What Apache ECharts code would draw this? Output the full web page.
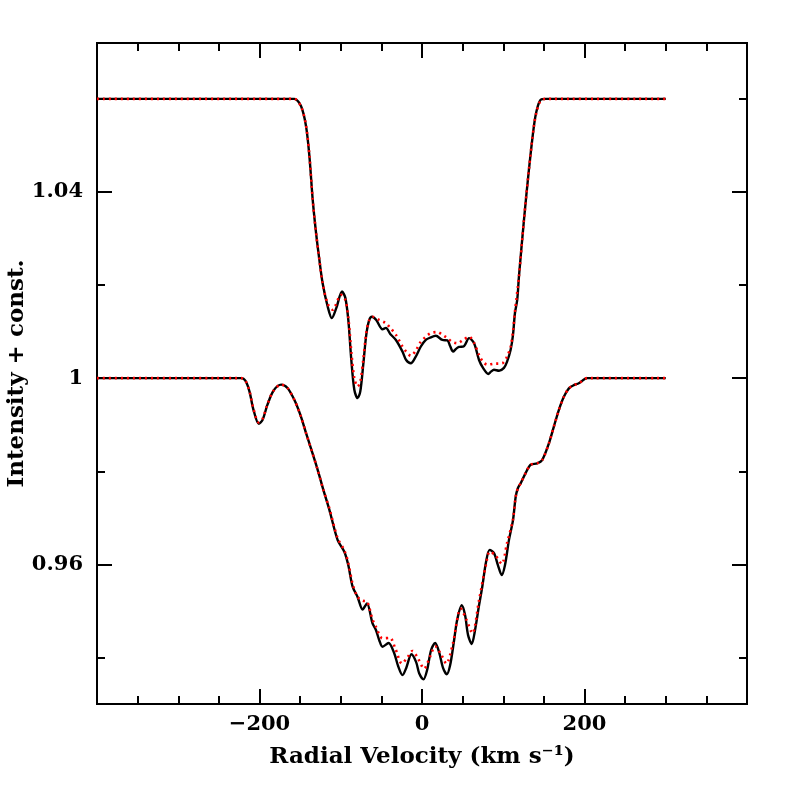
<!DOCTYPE html>
<html>
<head>
<meta charset="utf-8">
<script src="https://cdn.jsdelivr.net/npm/echarts@6/dist/echarts.min.js"></script>
<style>html,body{margin:0;padding:0;background:#fff;}#chart{width:789px;height:789px;}</style>
</head>
<body>
<div id="chart"></div>
<script>
// Upper profile (offset +0.06): observed (black) and model (red dotted)
var upperObsV = [-400,-165,-157,-148.8,-142.7,-138.6,-134.5,-130.4,-126.3,-122.3,-116.1,-111.0,-105.4,-98.4,-94.4,-90.7,-87.0,-83.3,-79.3,-76.0,-72.3,-68.6,-64.9,-61.6,-56.3,-48.6,-44.4,-39.1,-32.1,-24.0,-19.5,-13.7,-8.4,-1.4,4.7,10.0,17.0,25.1,31.3,34.6,38.3,41.9,45.6,51.8,57.9,64.1,70.2,75.1,81.6,84.9,88.6,94.8,100.9,104.6,109.1,112.0,114.4,117.2,119.3,125.5,131.6,137.7,141.4,146.0,152.1,160,300];
var upperObsI = [1.06,1.06,1.06,1.0584,1.0541,1.0477,1.0383,1.0312,1.0254,1.0204,1.0154,1.0129,1.0151,1.0186,1.0173,1.0125,1.0039,0.9975,0.9957,0.9971,1.0029,1.0093,1.0125,1.0132,1.0125,1.0105,1.0108,1.0095,1.0082,1.0057,1.0039,1.0032,1.0044,1.0068,1.0082,1.0087,1.0091,1.0082,1.0081,1.0069,1.0057,1.0063,1.0067,1.0069,1.0086,1.0075,1.0039,1.0022,1.0009,1.0014,1.0018,1.0016,1.0022,1.0035,1.0061,1.0093,1.0140,1.0168,1.0218,1.0340,1.0448,1.0541,1.0577,1.0598,1.06,1.06,1.06];
var upperModV = [-400,-165,-157,-148.5,-142.5,-138.5,-134.5,-130.4,-126.3,-122.3,-116.1,-110.0,-99.7,-94.4,-90.7,-87.0,-83.3,-79.3,-76.0,-72.3,-68.6,-64.9,-60.9,-52.6,-44.4,-39.1,-32.1,-24.4,-19.5,-13.7,-8.4,-2.3,4.7,11.2,19.0,25.1,31.3,37.0,43.5,50.5,57.9,64.1,70.2,75.1,80.4,88.6,98.8,104.6,109.1,112.0,114.4,119.3,125.5,131.6,137.7,141.4,146.0,152.1,160,300];
var upperModI = [1.06,1.06,1.06,1.0582,1.054,1.0477,1.0383,1.0312,1.0254,1.0204,1.0160,1.0147,1.0179,1.0168,1.0130,1.0057,1.0000,0.9982,0.9992,1.0039,1.0097,1.0125,1.0132,1.0125,1.0118,1.0108,1.0093,1.0069,1.0057,1.0048,1.0057,1.0076,1.0089,1.0097,1.0099,1.0093,1.0086,1.0078,1.0075,1.0082,1.0089,1.0076,1.0050,1.0035,1.0029,1.0031,1.0032,1.0046,1.0068,1.0100,1.0143,1.0218,1.0340,1.0448,1.0541,1.0575,1.0596,1.06,1.06,1.06];

// Lower profile: observed (black) and model (red dotted)
var lowerObsV = [-400,-228,-222.5,-217.2,-212.3,-207.4,-200.9,-196.3,-190.2,-182.8,-173.4,-165.6,-157.0,-149.7,-142.7,-136.1,-128.4,-121.4,-114.0,-103.8,-95.6,-90.7,-85.4,-79.3,-73.1,-67.7,-60.9,-56.7,-52.6,-48.6,-41.2,-34.2,-29.3,-24.0,-19.5,-13.0,-7.2,-3.5,1.8,6.3,11.2,16.2,21.1,26.0,30.5,34.6,39.5,43.2,48.9,53.0,56.7,61.2,65.3,70.2,74.2,78.8,83.3,88.6,93.5,98.1,102.1,107.0,112.0,115.3,118.1,121.4,127.5,133.7,141.8,147.9,156.2,162.3,168.5,174.6,180.8,186.9,193.0,203.2,210,300];
var lowerObsI = [1.0,1.0,1.0,0.9994,0.9971,0.9932,0.9902,0.9910,0.9943,0.9973,0.9986,0.9979,0.9953,0.9921,0.9882,0.9846,0.9803,0.9760,0.9717,0.9652,0.9627,0.9598,0.9552,0.9530,0.9503,0.9516,0.9473,0.9459,0.9437,0.9423,0.9431,0.9409,0.9381,0.9362,0.9377,0.9407,0.9390,0.9366,0.9353,0.9373,0.9416,0.9431,0.9411,0.9377,0.9364,0.9383,0.9437,0.9480,0.9512,0.9491,0.9448,0.9429,0.9459,0.9512,0.9552,0.9605,0.9631,0.9624,0.9598,0.9577,0.9598,0.9652,0.9695,0.9745,0.9764,0.9774,0.9796,0.9814,0.9817,0.9824,0.9860,0.9896,0.9932,0.9960,0.9978,0.9985,0.9989,1.0,1.0,1.0];
var lowerModV = [-400,-228,-222.5,-217.2,-212.3,-207.4,-200.9,-196.3,-190.2,-182.8,-173.4,-165.6,-157.0,-149.7,-142.7,-136.1,-128.4,-121.4,-114.0,-103.8,-95.6,-90.7,-85.4,-79.3,-73.1,-67.7,-60.9,-56.7,-48.6,-39.5,-33.0,-24.7,-18.0,-11.7,-5.0,2.6,9.5,16.2,23.0,30.0,38.0,47.7,55.0,62.0,70.2,78.8,83.3,90.0,98.1,104.6,112.0,115.3,118.1,121.4,127.5,133.7,141.8,147.9,156.2,162.3,168.5,174.6,180.8,186.9,193.0,203.2,210,300];
var lowerModI = [1.0,1.0,1.0,0.9994,0.9972,0.9934,0.9905,0.9912,0.9944,0.9973,0.9986,0.9979,0.9953,0.9921,0.9882,0.9846,0.9803,0.9760,0.9720,0.9656,0.9630,0.9603,0.9558,0.9530,0.9522,0.9520,0.9482,0.9466,0.9441,0.9442,0.9420,0.9387,0.9400,0.9414,0.9398,0.9376,0.9400,0.9424,0.9408,0.9387,0.9430,0.9505,0.9480,0.9452,0.9523,0.9600,0.9627,0.9620,0.9601,0.9645,0.9697,0.9745,0.9764,0.9774,0.9796,0.9814,0.9817,0.9824,0.9860,0.9896,0.9932,0.9960,0.9978,0.9985,0.9989,1.0,1.0,1.0];

// Axis ticks and labels
var xMajorTicks = [-400,-200,0,200,400];
var xMinorTicks = [-350,-300,-250,-150,-100,-50,50,100,150,250,300,350];
var xLabels = [-200,0,200];
var yMajorTicks = [0.96,1.00,1.04];
var yMinorTicks = [0.94,0.98,1.02,1.06];
var yLabels = [0.96,1.00,1.04];

function zip(a,b){var r=[];for(var i=0;i<a.length;i++)r.push([a[i],b[i]]);return r;}

var FONT = 'DejaVu Serif';
var XMIN=-400, XMAX=400, YMIN=0.93, YMAX=1.072;

function xAxisDef(pos, ticks, len, labels, extra){
  var o = {
    type:'value', position:pos, min:XMIN, max:XMAX,
    axisLine:{show:true, onZero:false, lineStyle:{color:'#000', width:2}},
    axisTick:{show:true, inside:true, length:len, customValues:ticks, lineStyle:{color:'#000', width:2}},
    axisLabel:{show:!!labels, customValues:labels||[], margin:10, color:'#000', fontFamily:FONT, fontSize:21, fontWeight:'bold',
      formatter:function(v){return v<0?'\u2212'+Math.abs(v):String(v);}},
    splitLine:{show:false}
  };
  for (var k in extra) o[k]=extra[k];
  return o;
}
function yAxisDef(pos, ticks, len, labels, extra){
  var o = {
    type:'value', position:pos, min:YMIN, max:YMAX,
    axisLine:{show:true, onZero:false, lineStyle:{color:'#000', width:2}},
    axisTick:{show:true, inside:true, length:len, customValues:ticks, lineStyle:{color:'#000', width:2}},
    axisLabel:{show:!!labels, customValues:labels||[], margin:14, color:'#000', fontFamily:FONT, fontSize:21, fontWeight:'bold',
      formatter:function(v){return Math.abs(v-1)<1e-9?'1':v.toFixed(2);}},
    splitLine:{show:false}
  };
  for (var k in extra) o[k]=extra[k];
  return o;
}

var chart = echarts.init(document.getElementById('chart'), null, {renderer:'canvas'});
chart.setOption({
  animation:false,
  backgroundColor:'#fff',
  grid:{left:97, right:42, top:43, bottom:85, containLabel:false, outerBoundsMode:'none'},
  xAxis:[
    xAxisDef('bottom', xMajorTicks, 15, xLabels, {name:'Radial Velocity (km s\u207B\u00B9)', nameLocation:'middle', nameGap:42,
      nameMoveOverlap:false,
      nameTextStyle:{color:'#000', fontFamily:FONT, fontSize:23, fontWeight:'bold'}}),
    xAxisDef('bottom', xMinorTicks, 8, null, {}),
    xAxisDef('top', xMajorTicks, 15, null, {}),
    xAxisDef('top', xMinorTicks, 8, null, {})
  ],
  yAxis:[
    yAxisDef('left', yMajorTicks, 15, yLabels, {name:'Intensity + const.', nameLocation:'middle', nameGap:68,
      nameMoveOverlap:false,
      nameTextStyle:{color:'#000', fontFamily:FONT, fontSize:23, fontWeight:'bold'}}),
    yAxisDef('left', yMinorTicks, 8, null, {}),
    yAxisDef('right', yMajorTicks, 15, null, {}),
    yAxisDef('right', yMinorTicks, 8, null, {})
  ],
  series:[
    {type:'line', name:'obs upper', data:zip(upperObsV, upperObsI), showSymbol:false, smooth:0.3,
      lineStyle:{color:'#000', width:2.4}, z:2},
    {type:'line', name:'obs lower', data:zip(lowerObsV, lowerObsI), showSymbol:false, smooth:0.3,
      lineStyle:{color:'#000', width:2.4}, z:2},
    {type:'line', name:'model upper', data:zip(upperModV, upperModI), showSymbol:false, smooth:0.3,
      lineStyle:{color:'#ff0000', width:2.6, type:[2,4], cap:'butt'}, z:3},
    {type:'line', name:'model lower', data:zip(lowerModV, lowerModI), showSymbol:false, smooth:0.3,
      lineStyle:{color:'#ff0000', width:2.6, type:[2,4], cap:'butt'}, z:3}
  ]
});
</script>
</body>
</html>
